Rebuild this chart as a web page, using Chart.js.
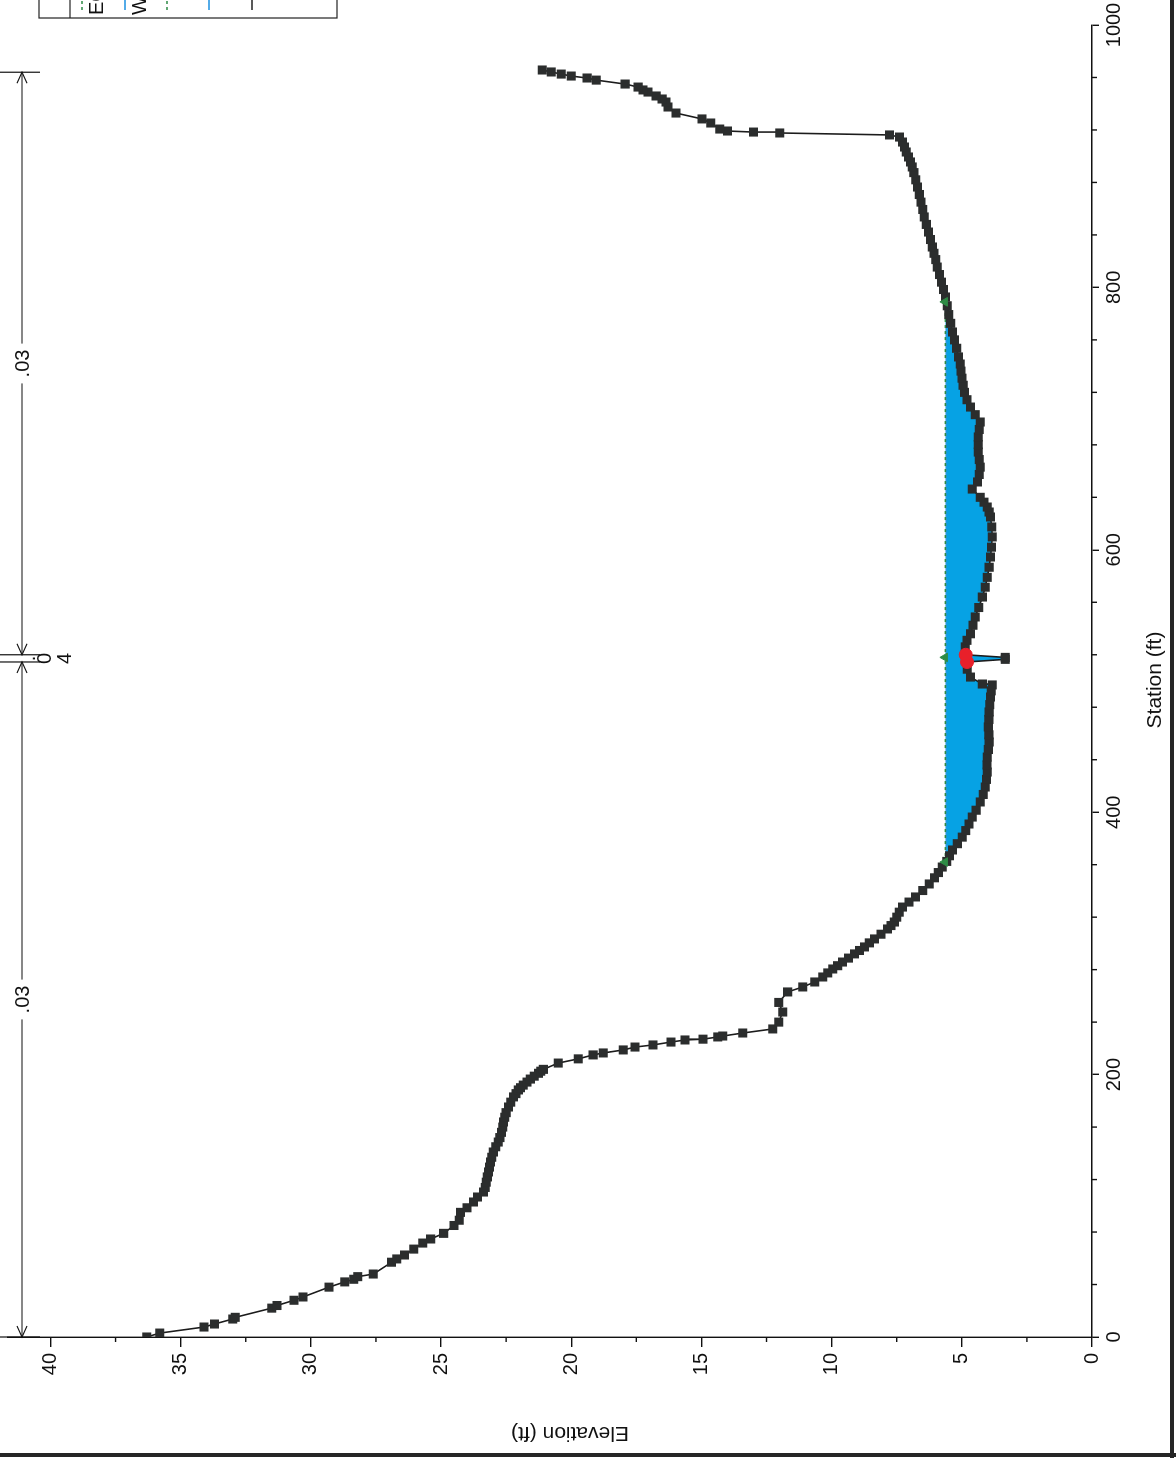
<!DOCTYPE html>
<html><head><meta charset="utf-8">
<script src="https://cdn.jsdelivr.net/npm/chart.js@4.4.1/dist/chart.umd.min.js"></script>
<style>
html,body{margin:0;padding:0;background:#fff;width:1176px;height:1458px;overflow:hidden;}
#wrap{position:absolute;left:0;top:0;width:1458px;height:1176px;transform-origin:0 0;transform:translate(0px,1458px) rotate(-90deg);}
.edge{position:absolute;background:#262626;}
</style></head><body>
<div id="wrap"><canvas id="c" width="1458" height="1176"></canvas></div>
<div class="edge" style="left:0;top:1453px;width:1176px;height:4px"></div>
<div class="edge" style="left:1170px;top:0;width:4px;height:1458px"></div>
<script>
// ---- data (station ft, elevation ft) ----
const groundStation = [0,3,7.6,9.9,13.7,15,22,24,28,30.5,38,42,44,46,48,57,59.5,62.5,67,71.6,74.7,79,85,89,95,98.5,102.9,106.7,110.5,114,118,122,125.8,129.5,133.4,137,141,145,148.6,152,156,160,163.9,167.5,171,175.3,179,183,185.5,188.3,190,192,194.3,196.6,198.8,201,202.6,204,208.8,212,215,216.5,218.8,221,222.6,224.8,226.4,227,228.7,229.4,231.7,234.8,240,247.7,255,263,266.8,270.6,274.4,277.5,280.5,283,285.8,288.8,292,294.6,297.3,300.4,303.4,307,311,313.6,316.3,320,323.8,327.7,331.5,335.4,340.3,345.3,350,354,358.2,362.5,366.8,371.2,376,381,386,391,396.3,401.5,407.8,413.5,419.2,425,430.6,436,442,447.8,453.5,459,465,470.7,476.4,482,487.8,492.5,497,497.7,503,509,514.5,516.5,518,520,526,531,536,542.5,548.8,556,564,571.5,579,586.7,594.5,602,609.8,617.4,625,628.8,632.6,636.3,640,646.3,651.7,657.4,663,668.8,674.5,680.2,686,691.7,697.4,703,708.8,714.4,720,725.4,730.8,736.2,741.6,747,753.6,760,766,772.6,779.3,786,792.7,798.4,804,809.8,815.5,821.2,826,830.8,836.5,842.2,848,853.7,859.4,865,870.8,876.5,882,887.5,891.8,895.6,899.4,903.2,907,910.8,914.6,916.2,917.7,918.4,919.2,920.7,925.3,928.4,932.9,937.5,941.3,943.6,945.9,948.9,950.5,952.7,955,958,959.6,961.1,962.6,964.2,965.7];
const groundElevation = [36.3,35.8,34.1,33.7,33.0,32.9,31.5,31.3,30.65,30.3,29.3,28.7,28.35,28.2,27.6,26.9,26.7,26.4,26.05,25.7,25.4,24.9,24.5,24.3,24.25,24.0,23.75,23.6,23.37,23.3,23.26,23.22,23.18,23.14,23.1,23.05,22.99,22.9,22.8,22.74,22.68,22.63,22.6,22.55,22.5,22.41,22.32,22.22,22.12,22.03,21.95,21.84,21.7,21.57,21.42,21.26,21.17,21.07,20.5,19.73,19.16,18.77,18.0,17.55,16.86,16.17,15.63,14.94,14.37,14.18,13.41,12.26,12.03,11.88,12.03,11.69,11.11,10.65,10.34,10.15,9.96,9.77,9.58,9.35,9.12,8.93,8.74,8.55,8.35,8.1,7.85,7.72,7.59,7.5,7.4,7.28,7.03,6.78,6.5,6.25,6.05,5.9,5.75,5.58,5.47,5.36,5.17,4.98,4.85,4.72,4.6,4.45,4.29,4.18,4.1,4.05,4.02,4.03,4.02,3.98,3.95,3.96,3.98,3.96,3.95,3.93,3.9,3.87,3.83,4.21,4.67,4.79,4.79,3.33,3.33,4.87,4.87,4.8,4.67,4.57,4.48,4.35,4.21,4.1,4.02,3.95,3.9,3.86,3.83,3.85,3.9,3.95,4.02,4.15,4.29,4.6,4.4,4.33,4.29,4.33,4.37,4.37,4.37,4.33,4.29,4.48,4.67,4.8,4.9,4.95,4.99,5.03,5.06,5.13,5.2,5.28,5.36,5.43,5.5,5.56,5.63,5.7,5.78,5.86,5.94,6.0,6.07,6.13,6.2,6.28,6.36,6.44,6.5,6.57,6.63,6.7,6.77,6.84,6.9,6.97,7.05,7.13,7.2,7.28,7.39,7.78,11.99,13.0,14.0,14.3,14.64,14.98,15.98,16.28,16.36,16.51,16.74,17.05,17.24,17.43,17.93,19.04,19.39,20.0,20.38,20.77,21.11];
const wsStations = [362, 789];
const wsElevation = 5.6;
const egElevation = 5.63;
const bankStations = [514.5, 520];
const bankElevations = [4.8, 4.85];
const markerStations = [362, 518, 789];
const markerElevations = [5.65, 5.65, 5.65];
const nBreaks = [0, 514.5, 520, 964];
const nValues = ['.03', '.04', '.03'];
const stationTickValues = [0, 200, 400, 600, 800, 1000];
const elevationTickValues = [0, 5, 10, 15, 20, 25, 30, 35, 40];
const legendLabels = ['EG PF 1', 'WS PF 1'];
const xTitle = 'Station (ft)';
const yTitle = 'Elevation (ft)';

// ---- build datasets ----
const ground = groundStation.map((s, i) => ({x: s, y: groundElevation[i]}));
const water = [{x: wsStations[0], y: wsElevation}]
  .concat(ground.filter(p => p.x > wsStations[0] && p.x < wsStations[1]))
  .concat([{x: wsStations[1], y: wsElevation}]);
const wsLine = wsStations.map(s => ({x: s, y: wsElevation}));
const egLine = wsStations.map(s => ({x: s, y: egElevation}));
const banks = bankStations.map((s, i) => ({x: s, y: bankElevations[i]}));
const marks = markerStations.map((s, i) => ({x: s, y: markerElevations[i]}));

const FONT = '"Liberation Sans", Arial, Helvetica, sans-serif';

const annot = {
  id: 'annot',
  afterDraw(chart) {
    const ctx = chart.ctx, xs = chart.scales.x, ys = chart.scales.y;
    ctx.save();
    ctx.strokeStyle = '#111'; ctx.fillStyle = '#111'; ctx.lineWidth = 1.4;
    // minor ticks
    for (let s = 0; s <= 1000; s += 40) {
      if (s % 200 === 0) continue;
      const px = xs.getPixelForValue(s);
      ctx.beginPath(); ctx.moveTo(px, xs.top); ctx.lineTo(px, xs.top + 5); ctx.stroke();
    }
    for (let e = 2.5; e < 41; e += 5) {
      const py = ys.getPixelForValue(e);
      ctx.beginPath(); ctx.moveTo(ys.right, py); ctx.lineTo(ys.right - 5, py); ctx.stroke();
    }
    // Manning's n annotation
    const ny = 22;
    ctx.lineWidth = 1.2;
    ctx.font = '20px ' + FONT;
    ctx.textAlign = 'center'; ctx.textBaseline = 'middle';
    nBreaks.forEach(b => {
      const px = xs.getPixelForValue(b);
      ctx.beginPath(); ctx.moveTo(px, 0); ctx.lineTo(px, 40); ctx.stroke();
    });
    const arrow = (tip, dir) => {
      ctx.beginPath(); ctx.moveTo(tip - dir * 11, ny - 5); ctx.lineTo(tip, ny); ctx.lineTo(tip - dir * 11, ny + 5); ctx.stroke();
    };
    for (let i = 0; i < nValues.length; i++) {
      const a = xs.getPixelForValue(nBreaks[i]), b = xs.getPixelForValue(nBreaks[i + 1]);
      if (b - a > 60) {
        const m = (a + b) / 2, w = ctx.measureText(nValues[i]).width / 2 + 6;
        ctx.beginPath(); ctx.moveTo(a, ny); ctx.lineTo(m - w, ny); ctx.moveTo(m + w, ny); ctx.lineTo(b, ny); ctx.stroke();
        arrow(a, -1); arrow(b, 1);
        ctx.fillText(nValues[i], m, ny + 1);
      } else {
        const m = (a + b) / 2;
        const chars = nValues[i].split('');
        const vs = [29, 45, 65];
        chars.forEach((c, k) => ctx.fillText(c, m, vs[k]));
      }
    }
    // axis titles
    ctx.font = '21px ' + FONT;
    ctx.fillText(xTitle, (xs.left + xs.right) / 2 + 1, 1155);
    ctx.save();
    ctx.translate(25, 570); ctx.rotate(-Math.PI / 2);
    ctx.fillText(yTitle, 0, 0);
    ctx.restore();
    // legend (partly outside the page)
    ctx.lineWidth = 1.2; ctx.strokeStyle = '#222';
    ctx.strokeRect(1440, 39, 300, 298);
    ctx.beginPath(); ctx.moveTo(1440, 70); ctx.lineTo(1460, 70); ctx.stroke();
    const sym = [[82, '#2e8b45', [3, 3]], [125, '#1a8fe0', []], [167, '#2e8b45', [3, 3]], [209, '#1a8fe0', []], [252, '#222', []]];
    sym.forEach(([v, col, dash]) => {
      ctx.strokeStyle = col; ctx.setLineDash(dash); ctx.lineWidth = 1.6;
      ctx.beginPath(); ctx.moveTo(1448, v); ctx.lineTo(1490, v); ctx.stroke();
    });
    ctx.setLineDash([]);
    ctx.textAlign = 'left'; ctx.font = '20px ' + FONT; ctx.fillStyle = '#111';
    ctx.fillText(legendLabels[0], 1443, 97);
    ctx.fillText(legendLabels[1], 1443, 140);
    ctx.restore();
  }
};

const noPad = s => { s.paddingTop = 0; s.paddingBottom = 0; s.paddingLeft = 0; s.paddingRight = 0; };

new Chart(document.getElementById('c'), {
  type: 'line',
  data: {
    datasets: [
      {label: 'Bank Sta', data: banks, showLine: false, pointStyle: 'circle', pointRadius: 6.5, pointBackgroundColor: '#e8202a', pointBorderColor: '#e8202a', order: 0},
      {label: 'Marks', data: marks, showLine: false, pointStyle: 'triangle', pointRadius: 5, pointBackgroundColor: '#2e8b45', pointBorderColor: '#2e8b45', order: 0},
      {label: 'Ground', data: ground, borderColor: '#1c1c1c', borderWidth: 1.6, pointStyle: 'rect', pointRadius: 6.4, pointBackgroundColor: '#2b2d2d', pointBorderColor: '#2b2d2d', pointBorderWidth: 0, fill: false, order: 1},
      {label: 'EG PF 1', data: egLine, borderColor: '#2e8b45', borderWidth: 1.6, borderDash: [3, 3], pointRadius: 0, fill: false, order: 2},
      {label: 'WS PF 1', data: wsLine, borderColor: '#1a8fe0', borderWidth: 1.2, pointRadius: 0, fill: false, order: 3},
      {label: 'Water', data: water, borderWidth: 0, borderColor: 'rgba(0,0,0,0)', backgroundColor: '#06a2e4', pointRadius: 0, fill: {value: wsElevation}, order: 5}
    ]
  },
  options: {
    responsive: false, animation: false, devicePixelRatio: 1,
    layout: {padding: {left: 0, right: 25, top: 5, bottom: 0}},
    plugins: {legend: {display: false}, tooltip: {enabled: false}},
    scales: {
      x: {
        type: 'linear', min: 0, max: 1000,
        afterBuildTicks: s => { s.ticks = stationTickValues.map(v => ({value: v})); },
        afterFit: s => { s.height = 84; noPad(s); },
        ticks: {color: '#111', font: {family: FONT, size: 20}, padding: 3, maxRotation: 0, callback: v => String(v)},
        grid: {drawOnChartArea: false, drawTicks: true, tickLength: 7, color: '#111', lineWidth: 1.4},
        border: {display: true, color: '#111', width: 1.4}
      },
      y: {
        type: 'linear', min: 0, max: 41.65,
        afterBuildTicks: s => { s.ticks = elevationTickValues.map(v => ({value: v})); },
        afterFit: s => { s.width = 121; noPad(s); },
        ticks: {color: '#111', font: {family: FONT, size: 20}, padding: 6, callback: v => String(v)},
        grid: {drawOnChartArea: false, drawTicks: true, tickLength: 10, color: '#111', lineWidth: 1.4},
        border: {display: true, color: '#111', width: 1.4}
      }
    }
  },
  plugins: [annot]
});
</script>
</body></html>
